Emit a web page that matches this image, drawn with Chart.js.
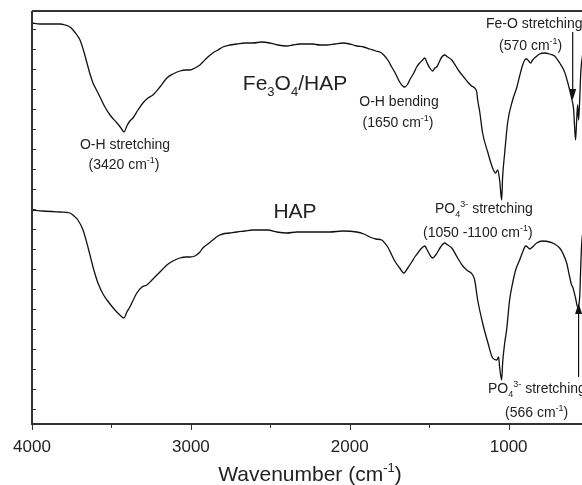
<!DOCTYPE html>
<html>
<head>
<meta charset="utf-8">
<script src="https://cdn.jsdelivr.net/npm/chart.js@4.4.1/dist/chart.umd.min.js"></script>
<style>
  html, body { margin: 0; padding: 0; background: #fff; overflow: hidden; }
  #wrap { width: 620px; height: 485px; }
</style>
</head>
<body>
<div id="wrap"><canvas id="ftir" width="620" height="485"></canvas></div>
<script>
// Fe3O4/HAP spectrum (wavenumber, transmittance in arbitrary units)
const feHapWave = [4000,3950,3887,3824,3792,3761,3742,3717,3698,3673,3654,3635,3616,3591,3572,3541,3509,3465,3440,3421,3403,3384,3365,3333,3302,3270,3239,3195,3151,3113,3069,3031,3006,2975,2943,2925,2893,2862,2830,2799,2755,2711,2660,2610,2553,2503,2453,2396,2358,2314,2233,2189,2145,2094,2044,2000,1956,1912,1874,1836,1811,1786,1761,1736,1711,1686,1667,1654,1635,1623,1597,1579,1560,1541,1528,1516,1497,1478,1465,1453,1434,1421,1403,1384,1358,1333,1308,1283,1258,1233,1214,1201,1195,1182,1164,1132,1101,1082,1069,1057,1044,1038,1025,1006,975,950,931,912,899,887,874,862,849,830,805,774,742,711,679,648,629,616,604,597,591,585,579,572,566,560,553,547,541,522,491,428];
const feHapT = [401,400,400,400,399,397,394,389,384,372,361,350,341,333,327,317,309,301,296,292,298,303,306,314,321,326,329,337,346,350,353,354,354,356,359,362,367,371,374,377,379,380,381,381,382,381,379,378,379,380,380,379,379,380,381,380,378,377,375,373,372,369,364,357,350,342,338,337,340,344,351,357,361,364,366,362,356,353,356,357,363,367,369,367,364,358,352,347,342,338,336,332,324,312,291,272,256,251,254,244,224,247,271,302,324,336,348,359,364,365,363,361,364,367,370,371,370,368,361,352,342,334,326,321,314,297,284,304,319,304,324,349,362,379,389,394];

// HAP spectrum
const hapWave = [4000,3931,3824,3761,3736,3711,3679,3648,3616,3585,3553,3528,3478,3447,3421,3403,3384,3340,3308,3277,3245,3214,3182,3151,3113,3069,3031,3006,2975,2943,2925,2893,2862,2830,2799,2755,2711,2660,2610,2553,2516,2459,2396,2333,2233,2126,2044,1956,1912,1874,1836,1799,1780,1761,1736,1717,1686,1660,1635,1610,1591,1572,1553,1528,1516,1503,1478,1459,1428,1403,1384,1358,1321,1289,1264,1226,1214,1195,1164,1132,1101,1075,1063,1057,1044,1038,1025,1013,994,975,956,931,912,893,881,868,843,824,786,742,711,679,660,635,616,604,597,579,566,553,547,541,522,491,428];
const hapT = [214,213,212,211,208,204,194,177,157,141,130,124,114,109,106,112,117,131,137,139,144,149,154,159,163,166,167,167,168,172,176,180,184,188,190,191,192,193,194,194,194,192,191,192,192,192,193,192,190,187,185,184,181,177,169,163,156,151,156,162,167,171,175,178,175,171,166,169,177,181,179,176,166,158,154,149,144,124,101,82,66,64,67,57,44,61,81,94,124,141,154,164,172,178,177,175,178,181,183,182,180,176,171,161,147,139,137,126,117,127,154,179,199,209,212];

// axes
const xMajor = [4000, 3000, 2000, 1000];
const xMinor = [3500, 2500, 1500];
const yTicks = [15,35,55,75,95,115,135,155,175,195,215,235,255,275,295,315,335,355,375,395];

// arrows [wavenumber, from, to]
const arrows = [[597, 392, 324], [560, 47, 121]];

const FONT = '"Liberation Sans", Arial, Helvetica, sans-serif';
const INK = '#222';

const notes = [
  { segs: [['Fe'], ['3', 'sub'], ['O'], ['4', 'sub'], ['/HAP']], x: 295, y: 90, size: 21, align: 'center' },
  { segs: [['HAP']], x: 295, y: 218, size: 21, align: 'center' },
  { segs: [['O-H stretching']], x: 125, y: 149, size: 14, align: 'center' },
  { segs: [['(3420 cm'], ['-1', 'sup'], [')']], x: 124, y: 169, size: 14, align: 'center' },
  { segs: [['O-H bending']], x: 399, y: 106, size: 14, align: 'center' },
  { segs: [['(1650 cm'], ['-1', 'sup'], [')']], x: 398, y: 127, size: 14, align: 'center' },
  { segs: [['Fe-O stretching']], x: 486, y: 28, size: 14, align: 'left' },
  { segs: [['(570 cm'], ['-1', 'sup'], [')']], x: 499, y: 50, size: 14, align: 'left' },
  { segs: [['PO'], ['4', 'sub'], ['3-', 'sup'], [' stretching']], x: 435, y: 213, size: 14, align: 'left' },
  { segs: [['(1050 -1100 cm'], ['-1', 'sup'], [')']], x: 423, y: 237, size: 14, align: 'left' },
  { segs: [['PO'], ['4', 'sub'], ['3-', 'sup'], [' stretching']], x: 488, y: 393, size: 14, align: 'left' },
  { segs: [['(566 cm'], ['-1', 'sup'], [')']], x: 505, y: 417, size: 14, align: 'left' }
];

function segFont(s, size) {
  return (s[1] ? Math.round(size * 0.62) : size) + 'px ' + FONT;
}
function drawRich(ctx, segs, x, y, size, align) {
  let total = 0;
  segs.forEach(s => { ctx.font = segFont(s, size); total += ctx.measureText(s[0]).width; });
  let cx = align === 'center' ? x - total / 2 : x;
  ctx.textAlign = 'left';
  ctx.textBaseline = 'alphabetic';
  segs.forEach(s => {
    ctx.font = segFont(s, size);
    let dy = 0;
    if (s[1] === 'sub') dy = size * 0.28;
    if (s[1] === 'sup') dy = -size * 0.42;
    ctx.fillText(s[0], cx, y + dy);
    cx += ctx.measureText(s[0]).width;
  });
}

const frame = {
  id: 'frame',
  afterDraw(chart) {
    const ctx = chart.ctx, a = chart.chartArea;
    const xs = chart.scales.x, ys = chart.scales.y;
    ctx.save();
    ctx.strokeStyle = '#333';
    ctx.fillStyle = INK;
    // box
    ctx.lineWidth = 2;
    ctx.beginPath();
    ctx.moveTo(a.left, a.top); ctx.lineTo(a.right, a.top);
    ctx.moveTo(a.left, a.top); ctx.lineTo(a.left, a.bottom);
    ctx.moveTo(a.left - 1, a.bottom); ctx.lineTo(a.right, a.bottom);
    ctx.stroke();
    // y ticks (inward)
    ctx.lineWidth = 1;
    ctx.beginPath();
    yTicks.forEach(v => {
      const py = Math.round(ys.getPixelForValue(v)) + 0.5;
      ctx.moveTo(a.left, py); ctx.lineTo(a.left + 4, py);
    });
    // x ticks (outward)
    xMajor.forEach(v => {
      const px = Math.round(xs.getPixelForValue(v)) + 0.5;
      ctx.moveTo(px, a.bottom); ctx.lineTo(px, a.bottom + 6);
    });
    xMinor.forEach(v => {
      const px = Math.round(xs.getPixelForValue(v)) + 0.5;
      ctx.moveTo(px, a.bottom); ctx.lineTo(px, a.bottom + 4);
    });
    ctx.stroke();
    // tick labels
    ctx.font = '17px ' + FONT;
    ctx.textAlign = 'center';
    ctx.textBaseline = 'alphabetic';
    xMajor.forEach(v => ctx.fillText(String(v), xs.getPixelForValue(v), 452));
    // axis title
    drawRich(ctx, [['Wavenumber (cm'], ['-1', 'sup'], [')']], 310, 481, 21, 'center');
    // annotations
    notes.forEach(n => drawRich(ctx, n.segs, n.x, n.y, n.size, n.align));
    // arrows
    ctx.strokeStyle = '#111';
    ctx.fillStyle = '#111';
    ctx.lineWidth = 1.2;
    arrows.forEach(([w, from, to]) => {
      const px = xs.getPixelForValue(w);
      const y0 = ys.getPixelForValue(from), y1 = ys.getPixelForValue(to);
      const dir = Math.sign(y1 - y0);
      ctx.beginPath();
      ctx.moveTo(px, y0); ctx.lineTo(px, y1 - dir * 8);
      ctx.stroke();
      ctx.beginPath();
      ctx.moveTo(px, y1);
      ctx.lineTo(px - 3.5, y1 - dir * 11);
      ctx.lineTo(px + 3.5, y1 - dir * 11);
      ctx.closePath();
      ctx.fill();
    });
    ctx.restore();
  }
};

const toPts = (w, t) => w.map((x, i) => ({ x, y: t[i] }));

new Chart(document.getElementById('ftir'), {
  type: 'line',
  data: {
    datasets: [
      { label: 'Fe3O4/HAP', data: toPts(feHapWave, feHapT) },
      { label: 'HAP', data: toPts(hapWave, hapT) }
    ]
  },
  options: {
    responsive: false,
    animation: false,
    devicePixelRatio: 1,
    parsing: true,
    layout: { padding: { left: 32, top: 11, right: 16, bottom: 61 } },
    elements: {
      point: { radius: 0 },
      line: { borderColor: '#111', borderWidth: 1.3, cubicInterpolationMode: 'monotone' }
    },
    scales: {
      x: { type: 'linear', min: 400, max: 4000, reverse: true, display: false },
      y: { type: 'linear', min: 0, max: 413, display: false }
    },
    plugins: { legend: { display: false }, tooltip: { enabled: false } }
  },
  plugins: [frame]
});
</script>
</body>
</html>
